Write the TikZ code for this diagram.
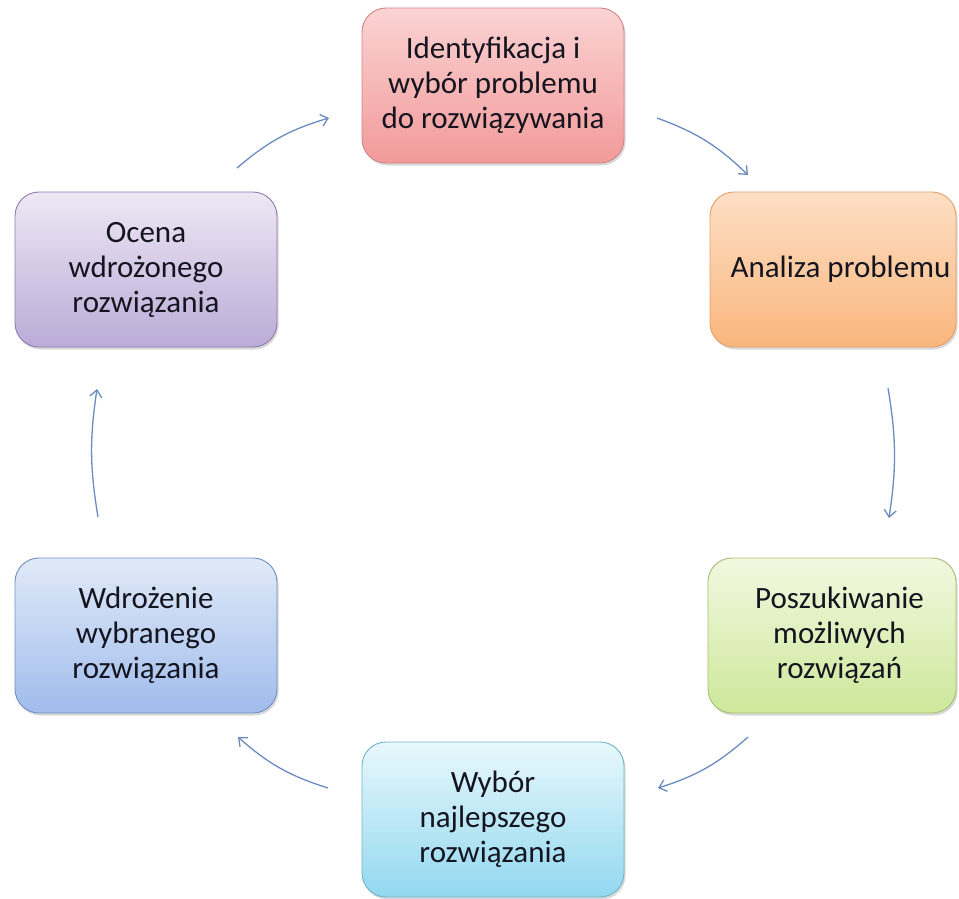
\documentclass[tikz,border=0pt]{standalone}
\usepackage{fontspec}
\setmainfont{Carlito}
\usetikzlibrary{arrows.meta,shadows}
\definecolor{arrowblue}{HTML}{6A8CC0}
\definecolor{txt}{HTML}{151520}
% fills and borders of the stages
\definecolor{redT}{HTML}{FBD3D3}\definecolor{redB}{HTML}{F29A9A}\definecolor{redD}{HTML}{D08585}
\definecolor{orT}{HTML}{FDDFC5}\definecolor{orB}{HTML}{F9B67C}\definecolor{orD}{HTML}{E3A06A}
\definecolor{grT}{HTML}{F2F8E0}\definecolor{grB}{HTML}{CDE89A}\definecolor{grD}{HTML}{A5C070}
\definecolor{cyT}{HTML}{E8F8FC}\definecolor{cyB}{HTML}{92D8F0}\definecolor{cyD}{HTML}{72B4C8}
\definecolor{blT}{HTML}{E0EAF8}\definecolor{blB}{HTML}{A0BCEC}\definecolor{blD}{HTML}{7090C4}
\definecolor{puT}{HTML}{EEE8F4}\definecolor{puB}{HTML}{BBABD8}\definecolor{puD}{HTML}{907CB0}
% push a centred line a little to the right
\newcommand{\pushr}{\hspace*{15pt}}
\tikzset{
  stage/.style={rounded corners=24pt, line width=0.9pt, align=center,
    text=txt, font=\fontsize{31}{35}\selectfont,
    inner sep=0pt, minimum width=#1, minimum height=155pt,
    drop shadow={shadow xshift=1.5pt, shadow yshift=-2.5pt, opacity=0.25, fill=black!60}},
  stage/.default=262pt,
  flow/.style={arrowblue, line width=1.3pt, -{Straight Barb[length=7pt,width=12pt,line width=1.3pt]}, bend left=#1},
  flow/.default=12
}
\begin{document}
\begin{tikzpicture}[x=1pt,y=1pt]
\useasboundingbox (0,0) rectangle (959,-898);
\fill[white] (0,0) rectangle (959,-898);
\clip (0,0) rectangle (959,-898);

% the six stages of the cycle
\node[stage, draw=redD, top color=redT, bottom color=redB] (ident) at (493,-85.5)
  {Identyfikacja i\\wybór problemu\\do rozwiązywania};
\node[stage=246pt, draw=orD, top color=orT, bottom color=orB] (anal) at (833,-269.5)
  {\pushr Analiza problemu};
\node[stage=248pt, draw=grD, top color=grT, bottom color=grB] (poszuk) at (832,-635.5)
  {\pushr Poszukiwanie\\\pushr możliwych\\\pushr rozwiązań};
\node[stage, draw=cyD, top color=cyT, bottom color=cyB] (wybor) at (493,-819.5)
  {Wybór\\najlepszego\\rozwiązania};
\node[stage, draw=blD, top color=blT, bottom color=blB] (wdroz) at (146,-635.5)
  {Wdrożenie\\wybranego\\rozwiązania};
\node[stage, draw=puD, top color=puT, bottom color=puB] (ocena) at (146,-269.5)
  {Ocena\\wdrożonego\\rozwiązania};

% arrow end points between the stages
\coordinate (a1s) at (237,-168); \coordinate (a1e) at (329,-118);
\coordinate (a2s) at (657,-118); \coordinate (a2e) at (748,-175);
\coordinate (a3s) at (888,-388); \coordinate (a3e) at (889,-518);
\coordinate (a4s) at (748,-737); \coordinate (a4e) at (658,-788);
\coordinate (a5s) at (328,-788); \coordinate (a5e) at (238,-737);
\coordinate (a6s) at (98,-517);  \coordinate (a6e) at (97,-389);

\draw[flow] (a1s) to (a1e);
\draw[flow] (a2s) to (a2e);
\draw[flow=9] (a3s) to (a3e);
\draw[flow] (a4s) to (a4e);
\draw[flow] (a5s) to (a5e);
\draw[flow=9] (a6s) to (a6e);
\end{tikzpicture}
\end{document}
